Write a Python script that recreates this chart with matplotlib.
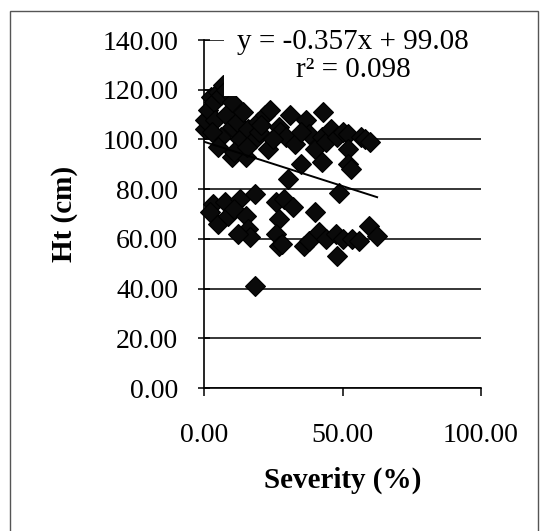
import matplotlib
matplotlib.use("Agg")
import matplotlib.pyplot as plt
from matplotlib.patches import Rectangle

# Plant height vs. disease severity
severity = [
    0.3, 0.5, 1.5, 2.5, 3.5, 4.0, 5.0, 6.0, 7.0, 8.0, 6.0, 5.0, 3.0, 8.0,
    10.0, 10.0, 12.0, 14.0, 10.0, 15.0, 13.0, 16.0, 18.5, 19.6, 22.0, 24.0,
    23.0, 27.0, 27.5, 29.5, 31.0, 33.0, 35.0, 37.0, 38.0, 40.0, 42.5, 42.5,
    43.0, 44.0, 46.0, 48.0, 50.0, 52.0, 52.0, 52.0, 53.0, 56.7, 58.0, 60.0,
    30.5, 48.7, 20.0, 25.0, 35.0, 20.7, 11.0, 15.5,
    3.3, 7.6, 13.0, 18.5, 5.0, 8.7, 11.0, 15.0, 16.0, 16.7, 12.4, 2.0,
    26.0, 29.0, 32.0, 27.0, 26.0, 27.0, 28.0, 40.0, 36.0, 38.0, 41.5, 44.0,
    47.5, 48.0, 50.0, 53.5, 56.0, 59.6, 62.5, 18.5,
]
height = [
    104, 108, 112, 117, 115, 108, 119, 118, 122, 120, 101, 97, 103, 110,
    115, 105, 107, 111, 93, 93, 100, 104, 100, 107, 110, 112,
    96, 105, 103, 101, 110, 98, 90, 108, 102, 96, 101, 91,
    111, 99, 104, 101, 103, 102, 96, 90, 88, 101, 100, 99,
    84, 78.5, 103, 100, 103, 106, 95, 97,
    74, 75, 76, 78, 66, 69, 72, 69, 64, 60.6, 62, 71,
    75, 76, 73, 68, 62, 57, 58, 71, 57, 59, 62.6, 60,
    62, 53, 60, 60, 59, 65, 61, 41,
]

# Linear trendline reported on the chart
slope = -0.357
intercept = 99.08
r_squared = 0.098

x_ticks = [0, 50, 100]
y_ticks = [0, 20, 40, 60, 80, 100, 120, 140]

plt.rcParams['font.family'] = ['Liberation Serif', 'DejaVu Serif']

W, H = 546, 531
fig = plt.figure(figsize=(W / 100, H / 100), dpi=100)
ax = fig.add_axes([204 / W, 1 - 388 / H, (481 - 204) / W, (388 - 40) / H])

ax.set_xlim(0, 100)
ax.set_ylim(0, 140)
ax.set_xticks(x_ticks)
ax.set_yticks(y_ticks)
ax.set_xticklabels([f"{v:.2f}" for v in x_ticks])
ax.set_yticklabels([f"{v:.2f}" for v in y_ticks])

for side in ("top", "right"):
    ax.spines[side].set_visible(False)
for side in ("left", "bottom"):
    ax.spines[side].set_linewidth(1.2)
    ax.spines[side].set_color("black")

ax.tick_params(axis="y", direction="inout", length=9, width=1.1, pad=14, labelsize=20)
ax.tick_params(axis="x", direction="out", length=6, width=1.1, pad=19, labelsize=20)

ax.yaxis.grid(True, color="black", linewidth=1.1)
ax.set_axisbelow(True)

ax.plot(severity, height, linestyle="none", marker="D", markersize=10.5,
        markerfacecolor="#0a0a0a", markeredgecolor="black", markeredgewidth=0.8,
        zorder=3, clip_on=False)

# trendline over the data range
tx = [min(severity), max(severity)]
ty = [slope * v + intercept for v in tx]
ax.plot(tx, ty, color="black", linewidth=1.4, zorder=4)

# equation label with white box (hides the grid behind it, like Excel)
ax.text(53.8, 133.5, f"y = {slope}x + {intercept:.2f}\nr\u00b2 = {r_squared}",
        ha="center", va="center", multialignment="center", fontsize=21,
        linespacing=1.1, zorder=6, clip_on=False,
        bbox=dict(boxstyle="square,pad=0.45", facecolor="white", edgecolor="none"))

fig.text(65 / W, 1 - 214 / H, "Ht (cm)", rotation=90, fontsize=21,
         fontweight="bold", ha="center", va="center")
fig.text(343 / W, 1 - 480 / H, "Severity (%)", fontsize=21,
         fontweight="bold", ha="center", va="center")

# chart-area border
fig.add_artist(Rectangle((10 / W, -0.02), (538 - 10) / W, 1.0, transform=fig.transFigure,
                         fill=False, edgecolor="#555555", linewidth=1.0))

fig.savefig("out.png", dpi=100, facecolor="white")
